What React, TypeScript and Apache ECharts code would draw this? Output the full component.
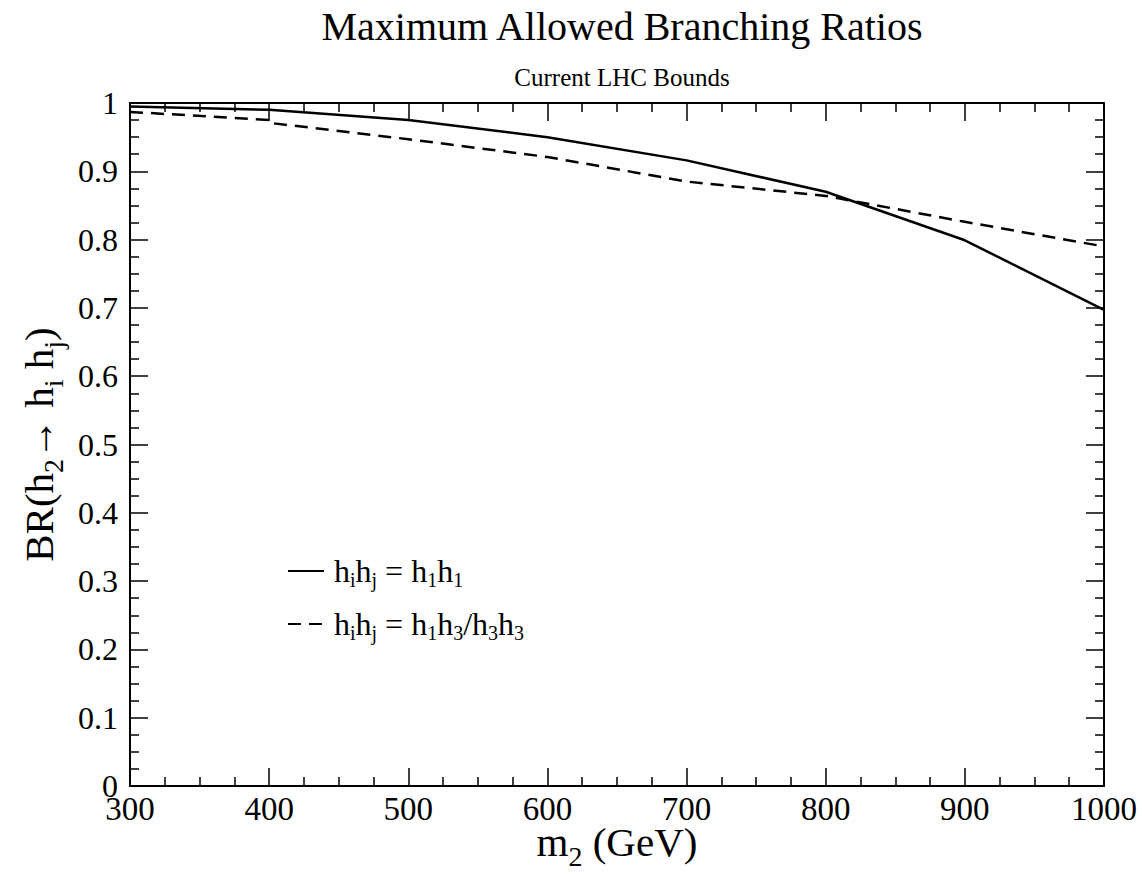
import React, { useEffect, useRef } from "react";
import * as echarts from "echarts";

const massX = [300, 400, 400, 500, 600, 700, 800, 900, 1000];
const solidMass = [300, 400, 500, 600, 700, 800, 900, 1000];
const solidBR = [0.995, 0.99, 0.975, 0.95, 0.916, 0.87, 0.799, 0.697];
const dashedBR = [0.987, 0.975, 0.971, 0.947, 0.921, 0.885, 0.864, 0.826, 0.79];
const seriesNames = ["h1h1", "h1h3h3h3"];

const FONT = "'Liberation Serif', 'Times New Roman', serif";

const subRich = (size: number, subSize: number, pad: number) => ({
  m: { fontSize: size, fontFamily: FONT, color: "#000", lineHeight: size },
  s: {
    fontSize: subSize,
    fontFamily: FONT,
    color: "#000",
    lineHeight: subSize,
    padding: [pad, 0, 0, 0],
  },
});

export default function App() {
  const ref = useRef<HTMLDivElement>(null);
  useEffect(() => {
    if (!ref.current) return;
    const chart = echarts.init(ref.current, undefined, { renderer: "svg" });
    const axisCommon = {
      axisLine: { show: true, onZero: false, lineStyle: { color: "#000", width: 2 } },
      axisTick: { show: true, inside: true, length: 18, lineStyle: { color: "#000", width: 1.5 } },
      minorTick: { show: true, splitNumber: 4, length: 9, lineStyle: { color: "#000", width: 1.5 } },
      splitLine: { show: false },
    };
    chart.setOption({
      animation: false,
      backgroundColor: "#fff",
      title: {
        left: 617,
        textAlign: "center",
        top: 1,
        text: "Maximum Allowed Branching Ratios",
        subtext: "Current LHC Bounds",
        itemGap: 19,
        textStyle: { fontFamily: FONT, fontSize: 40, fontWeight: "normal", color: "#000" },
        subtextStyle: { fontFamily: FONT, fontSize: 25, color: "#000" },
      },
      grid: { left: 130, right: 38, top: 103, bottom: 88, outerBoundsMode: "none", containLabel: false },
      legend: {
        orient: "vertical",
        left: 282,
        top: 547,
        itemGap: 15,
        itemWidth: 36,
        itemHeight: 14,
        data: seriesNames,
        itemStyle: { color: "rgba(0,0,0,0)", borderColor: "rgba(0,0,0,0)", borderWidth: 0, opacity: 0 },
        formatter: (name: string) =>
          name === "h1h1"
            ? "{m|h}{s|i}{m|h}{s|j}{m| = h}{s|1}{m|h}{s|1}"
            : "{m|h}{s|i}{m|h}{s|j}{m| = h}{s|1}{m|h}{s|3}{m|/h}{s|3}{m|h}{s|3}",
        textStyle: { padding: [0, 0, 0, 5], rich: subRich(32, 20, 18) },
      },
      xAxis: [
        {
          type: "value",
          min: 300,
          max: 1000,
          interval: 100,
          position: "bottom",
          ...axisCommon,
          axisLabel: { fontFamily: FONT, fontSize: 33, color: "#000", margin: 6, formatter: (v: number) => String(v) },
          name: "{m|m}{s|2}{m| (GeV)}",
          nameLocation: "middle",
          nameGap: 35,
          nameMoveOverlap: false,
          nameTextStyle: { rich: subRich(41, 28, 30) },
        },
        {
          type: "value",
          min: 300,
          max: 1000,
          interval: 100,
          position: "top",
          ...axisCommon,
          axisLabel: { show: false },
        },
      ],
      yAxis: [
        {
          type: "value",
          min: 0,
          max: 1,
          interval: 0.1,
          position: "left",
          ...axisCommon,
          axisLabel: {
            fontFamily: FONT,
            fontSize: 32,
            color: "#000",
            margin: 12,
            formatter: (v: number) => (v === 0 || v === 1 ? String(v) : v.toFixed(1)),
          },
          name: "{m|BR(h}{s|2}{m|→ h}{s|i}{m| h}{s|j}{m|)}",
          nameLocation: "middle",
          nameGap: 71,
          nameMoveOverlap: false,
          nameTextStyle: { rich: subRich(41, 28, 30) },
        },
        {
          type: "value",
          min: 0,
          max: 1,
          interval: 0.1,
          position: "right",
          ...axisCommon,
          axisLabel: { show: false },
        },
      ],
      series: [
        {
          name: seriesNames[0],
          type: "line",
          symbol: "none",
          data: solidMass.map((m, i) => [m, solidBR[i]]),
          lineStyle: { color: "#000", width: 2.5, type: "solid" },
          itemStyle: { color: "#000" },
        },
        {
          name: seriesNames[1],
          type: "line",
          symbol: "none",
          data: massX.map((m, i) => [m, dashedBR[i]]),
          lineStyle: { color: "#000", width: 2.5, type: [13, 8] },
          itemStyle: { color: "#000" },
        },
      ],
    });
    return () => chart.dispose();
  }, []);
  return (
    <div
      ref={ref}
      style={{ position: "fixed", left: 0, top: 0, width: 1142, height: 874 }}
    />
  );
}
